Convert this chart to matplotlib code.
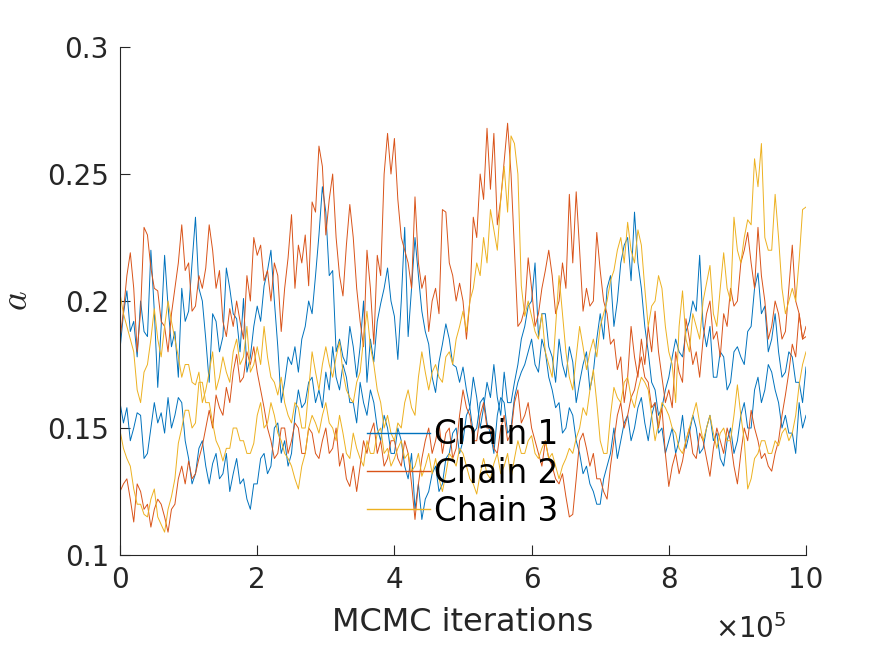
import numpy as np
import matplotlib
matplotlib.use("Agg")
import matplotlib.pyplot as plt
from matplotlib.ticker import FuncFormatter

# iteration grid (every 5e3 iterations)
iterations = np.arange(201) * 5000

# values, two traces per chain
chain1_a = [0.181, 0.195, 0.204, 0.188, 0.192, 0.178, 0.200, 0.188, 0.186, 0.220, 0.196, 0.166, 0.190, 0.218, 0.198, 0.182, 0.188, 0.170, 0.205, 0.192,
            0.196, 0.215, 0.233, 0.205, 0.200, 0.185, 0.168, 0.195, 0.192, 0.180, 0.186, 0.213, 0.205, 0.195, 0.193, 0.180, 0.201, 0.172, 0.178, 0.190,
            0.198, 0.192, 0.206, 0.212, 0.220, 0.200, 0.182, 0.160, 0.168, 0.178, 0.175, 0.182, 0.172, 0.185, 0.190, 0.200, 0.195, 0.210, 0.226, 0.245,
            0.235, 0.210, 0.212, 0.180, 0.185, 0.178, 0.175, 0.190, 0.182, 0.170, 0.182, 0.200, 0.168, 0.185, 0.176, 0.192, 0.199, 0.205, 0.213, 0.200,
            0.194, 0.177, 0.200, 0.229, 0.186, 0.205, 0.225, 0.210, 0.196, 0.188, 0.183, 0.170, 0.164, 0.176, 0.183, 0.191, 0.185, 0.175, 0.174, 0.168,
            0.174, 0.165, 0.158, 0.170, 0.162, 0.150, 0.158, 0.168, 0.162, 0.175, 0.162, 0.155, 0.172, 0.160, 0.160, 0.168, 0.175, 0.185, 0.190, 0.198,
            0.200, 0.215, 0.186, 0.195, 0.195, 0.182, 0.178, 0.168, 0.185, 0.175, 0.170, 0.182, 0.176, 0.160, 0.168, 0.175, 0.180, 0.165, 0.172, 0.185,
            0.195, 0.185, 0.205, 0.210, 0.190, 0.200, 0.215, 0.222, 0.225, 0.208, 0.235, 0.215, 0.205, 0.190, 0.180, 0.168, 0.165, 0.155, 0.158, 0.165,
            0.170, 0.178, 0.185, 0.180, 0.178, 0.188, 0.192, 0.200, 0.196, 0.218, 0.190, 0.182, 0.190, 0.170, 0.170, 0.180, 0.178, 0.165, 0.168, 0.180,
            0.182, 0.178, 0.175, 0.188, 0.190, 0.205, 0.211, 0.195, 0.198, 0.180, 0.185, 0.195, 0.180, 0.170, 0.172, 0.180, 0.178, 0.168, 0.168, 0.160,
            0.174]
chain1_b = [0.160, 0.152, 0.158, 0.145, 0.150, 0.156, 0.155, 0.138, 0.140, 0.150, 0.160, 0.152, 0.156, 0.148, 0.162, 0.150, 0.155, 0.162, 0.160, 0.145,
            0.138, 0.128, 0.132, 0.142, 0.145, 0.135, 0.128, 0.136, 0.140, 0.130, 0.132, 0.140, 0.125, 0.132, 0.138, 0.128, 0.130, 0.122, 0.118, 0.128,
            0.128, 0.138, 0.140, 0.132, 0.135, 0.150, 0.152, 0.140, 0.145, 0.135, 0.140, 0.155, 0.165, 0.158, 0.160, 0.168, 0.170, 0.160, 0.165, 0.158,
            0.172, 0.165, 0.182, 0.170, 0.165, 0.175, 0.170, 0.160, 0.160, 0.152, 0.168, 0.160, 0.155, 0.165, 0.160, 0.150, 0.145, 0.155, 0.150, 0.140,
            0.140, 0.150, 0.145, 0.135, 0.130, 0.140, 0.118, 0.128, 0.114, 0.122, 0.125, 0.132, 0.135, 0.125, 0.128, 0.138, 0.140, 0.148, 0.150, 0.140,
            0.145, 0.155, 0.158, 0.148, 0.150, 0.160, 0.162, 0.152, 0.148, 0.140, 0.155, 0.162, 0.160, 0.148, 0.150, 0.162, 0.168, 0.172, 0.175, 0.180,
            0.185, 0.175, 0.172, 0.185, 0.180, 0.170, 0.165, 0.158, 0.160, 0.148, 0.150, 0.158, 0.155, 0.145, 0.140, 0.132, 0.135, 0.128, 0.125, 0.120,
            0.120, 0.130, 0.135, 0.140, 0.150, 0.138, 0.145, 0.152, 0.155, 0.145, 0.150, 0.158, 0.162, 0.152, 0.145, 0.155, 0.160, 0.148, 0.150, 0.140,
            0.145, 0.150, 0.140, 0.145, 0.155, 0.142, 0.148, 0.155, 0.150, 0.140, 0.142, 0.150, 0.155, 0.145, 0.148, 0.138, 0.135, 0.145, 0.150, 0.140,
            0.145, 0.155, 0.160, 0.150, 0.150, 0.165, 0.170, 0.160, 0.165, 0.175, 0.172, 0.165, 0.160, 0.150, 0.155, 0.148, 0.148, 0.140, 0.160, 0.150,
            0.155]
chain2_a = [0.185, 0.196, 0.210, 0.219, 0.205, 0.180, 0.196, 0.229, 0.226, 0.213, 0.205, 0.204, 0.192, 0.190, 0.180, 0.195, 0.205, 0.215, 0.230, 0.212,
            0.215, 0.196, 0.198, 0.210, 0.205, 0.213, 0.230, 0.220, 0.205, 0.212, 0.192, 0.186, 0.197, 0.190, 0.200, 0.192, 0.185, 0.210, 0.200, 0.225,
            0.218, 0.222, 0.208, 0.212, 0.200, 0.215, 0.210, 0.188, 0.205, 0.217, 0.234, 0.205, 0.222, 0.215, 0.226, 0.206, 0.239, 0.235, 0.261, 0.253,
            0.226, 0.240, 0.250, 0.225, 0.210, 0.202, 0.222, 0.238, 0.225, 0.205, 0.192, 0.182, 0.220, 0.205, 0.183, 0.218, 0.210, 0.250, 0.266, 0.250,
            0.264, 0.240, 0.225, 0.220, 0.215, 0.205, 0.241, 0.215, 0.205, 0.210, 0.188, 0.200, 0.205, 0.195, 0.236, 0.235, 0.215, 0.210, 0.200, 0.207,
            0.200, 0.185, 0.200, 0.233, 0.225, 0.250, 0.240, 0.268, 0.244, 0.266, 0.230, 0.240, 0.255, 0.270, 0.250, 0.220, 0.190, 0.192, 0.197, 0.217,
            0.205, 0.190, 0.195, 0.205, 0.212, 0.220, 0.210, 0.195, 0.200, 0.215, 0.205, 0.242, 0.215, 0.243, 0.220, 0.196, 0.205, 0.198, 0.200, 0.227,
            0.212, 0.200, 0.195, 0.183, 0.185, 0.173, 0.178, 0.160, 0.170, 0.190, 0.178, 0.170, 0.185, 0.175, 0.190, 0.180, 0.196, 0.180, 0.170, 0.160,
            0.165, 0.158, 0.180, 0.172, 0.168, 0.193, 0.185, 0.175, 0.180, 0.170, 0.185, 0.195, 0.200, 0.185, 0.188, 0.178, 0.195, 0.190, 0.205, 0.198,
            0.200, 0.215, 0.220, 0.227, 0.215, 0.205, 0.229, 0.210, 0.200, 0.185, 0.190, 0.200, 0.195, 0.185, 0.188, 0.205, 0.222, 0.200, 0.195, 0.185,
            0.186]
chain2_b = [0.125, 0.128, 0.130, 0.122, 0.113, 0.128, 0.125, 0.118, 0.120, 0.111, 0.118, 0.122, 0.120, 0.115, 0.109, 0.118, 0.120, 0.130, 0.135, 0.128,
            0.137, 0.130, 0.132, 0.138, 0.143, 0.150, 0.157, 0.150, 0.163, 0.158, 0.155, 0.166, 0.160, 0.172, 0.179, 0.168, 0.170, 0.180, 0.175, 0.182,
            0.172, 0.165, 0.158, 0.150, 0.145, 0.138, 0.140, 0.150, 0.150, 0.140, 0.145, 0.152, 0.150, 0.140, 0.140, 0.150, 0.148, 0.140, 0.138, 0.145,
            0.150, 0.140, 0.142, 0.150, 0.135, 0.140, 0.130, 0.127, 0.135, 0.125, 0.135, 0.145, 0.140, 0.148, 0.152, 0.140, 0.145, 0.135, 0.138, 0.145,
            0.145, 0.138, 0.135, 0.145, 0.140, 0.128, 0.114, 0.128, 0.138, 0.145, 0.150, 0.140, 0.145, 0.152, 0.140, 0.148, 0.150, 0.138, 0.142, 0.155,
            0.165, 0.158, 0.155, 0.145, 0.145, 0.155, 0.160, 0.150, 0.150, 0.142, 0.140, 0.150, 0.155, 0.145, 0.148, 0.160, 0.165, 0.152, 0.155, 0.160,
            0.150, 0.145, 0.140, 0.135, 0.145, 0.138, 0.135, 0.130, 0.128, 0.132, 0.123, 0.115, 0.116, 0.130, 0.145, 0.148, 0.142, 0.135, 0.140, 0.130,
            0.130, 0.125, 0.122, 0.135, 0.145, 0.155, 0.160, 0.150, 0.155, 0.162, 0.165, 0.172, 0.178, 0.170, 0.168, 0.158, 0.160, 0.150, 0.158, 0.140,
            0.127, 0.135, 0.140, 0.132, 0.137, 0.145, 0.150, 0.140, 0.138, 0.148, 0.145, 0.138, 0.131, 0.142, 0.150, 0.145, 0.140, 0.150, 0.145, 0.135,
            0.128, 0.140, 0.150, 0.145, 0.157, 0.150, 0.145, 0.138, 0.140, 0.135, 0.133, 0.140, 0.145, 0.155, 0.163, 0.172, 0.183, 0.178, 0.195, 0.185,
            0.190]
chain3_a = [0.203, 0.195, 0.190, 0.185, 0.180, 0.165, 0.160, 0.172, 0.175, 0.185, 0.197, 0.185, 0.178, 0.190, 0.200, 0.192, 0.185, 0.178, 0.170, 0.175,
            0.175, 0.168, 0.167, 0.172, 0.160, 0.165, 0.172, 0.180, 0.165, 0.170, 0.178, 0.172, 0.168, 0.180, 0.185, 0.175, 0.178, 0.190, 0.172, 0.175,
            0.182, 0.175, 0.190, 0.178, 0.170, 0.168, 0.163, 0.170, 0.160, 0.155, 0.152, 0.160, 0.158, 0.150, 0.150, 0.165, 0.180, 0.172, 0.165, 0.175,
            0.182, 0.175, 0.170, 0.178, 0.184, 0.172, 0.165, 0.162, 0.160, 0.168, 0.172, 0.185, 0.196, 0.182, 0.175, 0.165, 0.160, 0.150, 0.155, 0.148,
            0.145, 0.152, 0.150, 0.160, 0.165, 0.158, 0.155, 0.170, 0.180, 0.172, 0.165, 0.172, 0.175, 0.170, 0.168, 0.178, 0.180, 0.175, 0.185, 0.190,
            0.196, 0.188, 0.200, 0.205, 0.215, 0.210, 0.225, 0.215, 0.236, 0.228, 0.220, 0.240, 0.253, 0.235, 0.265, 0.262, 0.250, 0.206, 0.194, 0.200,
            0.194, 0.188, 0.185, 0.195, 0.180, 0.175, 0.170, 0.190, 0.210, 0.195, 0.180, 0.170, 0.165, 0.178, 0.190, 0.182, 0.173, 0.180, 0.185, 0.178,
            0.190, 0.195, 0.200, 0.208, 0.212, 0.220, 0.225, 0.215, 0.231, 0.220, 0.215, 0.228, 0.222, 0.205, 0.190, 0.198, 0.200, 0.210, 0.205, 0.190,
            0.180, 0.175, 0.160, 0.190, 0.204, 0.185, 0.180, 0.195, 0.190, 0.185, 0.200, 0.207, 0.214, 0.195, 0.190, 0.205, 0.219, 0.205, 0.200, 0.233,
            0.220, 0.215, 0.225, 0.232, 0.230, 0.256, 0.245, 0.262, 0.225, 0.220, 0.220, 0.242, 0.225, 0.205, 0.195, 0.200, 0.205, 0.200, 0.216, 0.236,
            0.237]
chain3_b = [0.149, 0.142, 0.138, 0.135, 0.126, 0.120, 0.120, 0.116, 0.115, 0.122, 0.126, 0.115, 0.112, 0.109, 0.118, 0.123, 0.130, 0.144, 0.150, 0.157,
            0.157, 0.150, 0.152, 0.168, 0.168, 0.160, 0.160, 0.152, 0.145, 0.142, 0.137, 0.142, 0.142, 0.150, 0.150, 0.145, 0.145, 0.140, 0.140, 0.144,
            0.155, 0.160, 0.150, 0.152, 0.160, 0.155, 0.148, 0.145, 0.140, 0.138, 0.135, 0.130, 0.126, 0.135, 0.140, 0.150, 0.155, 0.152, 0.148, 0.155,
            0.160, 0.152, 0.150, 0.145, 0.155, 0.148, 0.140, 0.138, 0.148, 0.142, 0.138, 0.135, 0.145, 0.140, 0.140, 0.148, 0.150, 0.140, 0.142, 0.135,
            0.138, 0.142, 0.145, 0.138, 0.140, 0.133, 0.135, 0.140, 0.131, 0.135, 0.140, 0.132, 0.138, 0.130, 0.125, 0.132, 0.140, 0.138, 0.135, 0.142,
            0.140, 0.135, 0.130, 0.128, 0.124, 0.132, 0.138, 0.132, 0.130, 0.136, 0.140, 0.132, 0.135, 0.140, 0.130, 0.138, 0.145, 0.140, 0.140, 0.145,
            0.147, 0.140, 0.138, 0.142, 0.145, 0.138, 0.140, 0.135, 0.130, 0.135, 0.138, 0.142, 0.140, 0.146, 0.150, 0.158, 0.155, 0.165, 0.173, 0.160,
            0.145, 0.140, 0.140, 0.155, 0.166, 0.162, 0.160, 0.168, 0.170, 0.162, 0.158, 0.165, 0.170, 0.168, 0.165, 0.155, 0.145, 0.152, 0.160, 0.158,
            0.155, 0.150, 0.148, 0.142, 0.140, 0.145, 0.150, 0.155, 0.160, 0.152, 0.145, 0.150, 0.155, 0.148, 0.142, 0.148, 0.150, 0.145, 0.145, 0.155,
            0.167, 0.155, 0.145, 0.126, 0.130, 0.138, 0.140, 0.145, 0.145, 0.140, 0.140, 0.145, 0.143, 0.148, 0.150, 0.145, 0.148, 0.155, 0.167, 0.175,
            0.180]

labels = ["Chain 1", "Chain 2", "Chain 3"]
colors = ["#0072BD", "#D95319", "#EDB120"]
traces = [(chain1_a, chain1_b), (chain2_a, chain2_b), (chain3_a, chain3_b)]

plt.rcParams["font.family"] = "DejaVu Sans"
plt.rcParams["mathtext.fontset"] = "cm"
axis_color = "#262626"

fig = plt.figure(figsize=(8.91, 6.45), dpi=100)
ax = fig.add_axes([0.1347, 0.1395, 0.7699, 0.7876])

handles = []
for (ya, yb), c, lab in zip(traces, colors, labels):
    h, = ax.plot(iterations, ya, color=c, lw=0.7, label=lab)
    ax.plot(iterations, yb, color=c, lw=0.7)
    handles.append(h)

ax.set_xlim(0, 1e6)
ax.set_ylim(0.1, 0.3)
ax.set_xticks(np.arange(0, 1e6 + 1, 2e5))
ax.set_yticks([0.1, 0.15, 0.2, 0.25, 0.3])
ax.xaxis.set_major_formatter(FuncFormatter(lambda v, p: f"{v / 1e5:g}"))
ax.yaxis.set_major_formatter(FuncFormatter(lambda v, p: f"{v:g}"))

for side in ["top", "right"]:
    ax.spines[side].set_visible(False)
for side in ["left", "bottom"]:
    ax.spines[side].set_color(axis_color)
    ax.spines[side].set_linewidth(0.8)
ax.tick_params(direction="in", length=7, width=0.8, colors=axis_color,
               labelsize=20, pad=8)

ax.set_xlabel("MCMC iterations", fontsize=23, color=axis_color, labelpad=9)
ax.set_ylabel("$a$", fontsize=27, color=axis_color, labelpad=9)
ax.text(0.972, -0.145, r"$\times$10$^5$", transform=ax.transAxes, ha="right",
        va="center", fontsize=20, color=axis_color, math_fontfamily="dejavusans")

leg = ax.legend(handles=handles, loc="upper left", bbox_to_anchor=(0.336, 0.301),
                frameon=False, fontsize=23.5, handlelength=1.93, handletextpad=0.12,
                labelspacing=0.16, borderpad=0.0)
for line in leg.get_lines():
    line.set_linewidth(1.0)

fig.savefig("out.png", dpi=100)
plt.close(fig)
